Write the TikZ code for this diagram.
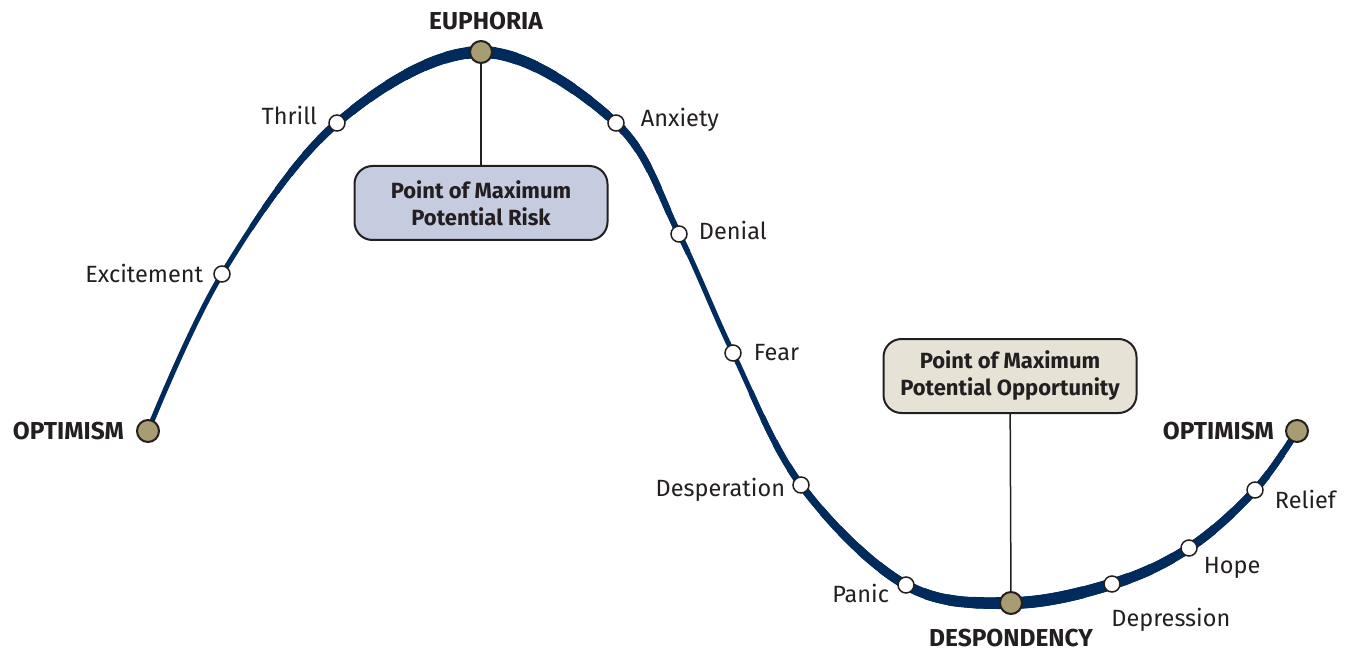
\documentclass[tikz,border=0pt]{standalone}
\usepackage{fontspec}
\setmainfont{Fira Sans}
\usepackage{xcolor}
\usetikzlibrary{positioning}

\definecolor{navy}{RGB}{0,43,92}
\definecolor{khaki}{RGB}{168,157,114}
\definecolor{riskblue}{RGB}{197,204,224}
\definecolor{sand}{RGB}{230,226,214}
\definecolor{ink}{RGB}{35,31,32}

% the market cycle line, through the stage points
\newcommand\wavepath{plot[smooth, tension=0.6] coordinates {(p-opt1) (p-exc) (p-thr) (p-euph) (p-anx) (p-den) (p-fear) (p-desp) (p-pan) (p-dsp) (p-dep) (p-hope) (p-rel) (p-opt2)}}

\begin{document}
\begin{tikzpicture}[
  x=1pt, y=-1pt,
  every node/.style={font=\fontsize{23.5}{28}\selectfont, text=ink},
  mood/.style={inner sep=0pt},
  phase/.style={inner sep=0pt, font=\fontsize{24.5}{28}\selectfont\bfseries},
  stage/.style={circle, draw=ink, line width=1.5pt, fill=white,
    minimum size=16pt, inner sep=0pt},
  peak/.style={circle, draw=ink, line width=2pt, fill=khaki,
    minimum size=22pt, inner sep=0pt},
  callout/.style={rectangle, draw=ink, line width=2pt, rounded corners=18pt,
    minimum width=253pt, minimum height=74pt, align=center,
    font=\fontsize{22}{27}\selectfont\bfseries},
  risk/.style={callout, fill=riskblue},
  chance/.style={callout, fill=sand},
  wave/.style={draw=navy, line cap=round},
  stem/.style={draw=ink, line width=1.5pt},
]
\useasboundingbox (0,0) rectangle (1348,652);

% Stage points
\coordinate (p-opt1) at (148,431);
\coordinate (p-exc)  at (222,274);
\coordinate (p-thr)  at (337,123);
\coordinate (p-euph) at (481,52);
\coordinate (p-anx)  at (616,123);
\coordinate (p-den)  at (679,234);
\coordinate (p-fear) at (733,353);
\coordinate (p-desp) at (801,485);
\coordinate (p-pan)  at (906,585);
\coordinate (p-dsp)  at (1011,603);
\coordinate (p-dep)  at (1112,584);
\coordinate (p-hope) at (1189,548);
\coordinate (p-rel)  at (1255,490);
\coordinate (p-opt2) at (1297,431);
\coordinate (lowc)   at (1040,600);

% Cycle line, thicker near the top and the bottom
\draw[wave, line width=5pt] \wavepath;
\foreach \i in {1,...,14} {
  \pgfmathsetmacro\w{5+\i*0.5}
  \pgfmathsetmacro\r{310-\i*21}
  \begin{scope}
    \clip (p-euph) circle (\r pt);
    \draw[wave, line width=\w pt] \wavepath;
  \end{scope}
}
\foreach \i in {1,...,14} {
  \pgfmathsetmacro\w{5+\i*0.5}
  \pgfmathsetmacro\r{380-\i*24}
  \begin{scope}
    \clip (lowc) circle (\r pt);
    \draw[wave, line width=\w pt] \wavepath;
  \end{scope}
}

% Dots
\node[peak]  (opt1)    at (p-opt1) {};
\node[stage] (excite)  at (p-exc)  {};
\node[stage] (thrill)  at (p-thr)  {};
\node[peak]  (euph)    at (p-euph) {};
\node[stage] (anxiety) at (p-anx)  {};
\node[stage] (denial)  at (p-den)  {};
\node[stage] (fear)    at (p-fear) {};
\node[stage] (desper)  at (p-desp) {};
\node[stage] (panic)   at (p-pan)  {};
\node[peak]  (despond) at (p-dsp)  {};
\node[stage] (depress) at (p-dep)  {};
\node[stage] (hope)    at (p-hope) {};
\node[stage] (relief)  at (p-rel)  {};
\node[peak]  (opt2)    at (p-opt2) {};

% Labels
\node[phase, left=12pt of opt1] (opt1-l) {OPTIMISM};
\node[phase, above=10pt of euph, xshift=5pt] (euph-l) {EUPHORIA};
\node[phase, below=14pt of despond] (despond-l) {DESPONDENCY};
\node[phase, left=11pt of opt2] (opt2-l) {OPTIMISM};

\node[mood, left=10pt of excite, yshift=1pt] (excite-l) {Excitement};
\node[mood, left=11pt of thrill, yshift=8pt] (thrill-l) {Thrill};
\node[mood, right=16pt of anxiety, yshift=3.5pt] (anxiety-l) {Anxiety};
\node[mood, right=11pt of denial, yshift=4pt] (denial-l) {Denial};
\node[mood, right=12pt of fear] (fear-l) {Fear};
\node[mood, left=7pt of desper, yshift=-4.5pt] (desper-l) {Desperation};
\node[mood, left=8pt of panic, yshift=-8pt] (panic-l) {Panic};
\node[mood, below right=18pt and -7pt of depress] (depress-l) {Depression};
\node[mood, right=6pt of hope, yshift=-19.5pt] (hope-l) {Hope};
\node[mood, right=11pt of relief, yshift=-9pt] (relief-l) {Relief};

% Callouts
\node[risk] (riskbox) at (481,203) {Point of Maximum\\Potential Risk};
\node[chance] (chancebox) at (1010,376) {Point of Maximum\\Potential Opportunity};

\draw[stem] (euph) -- (riskbox);
\draw[stem] (chancebox) -- (despond);

\end{tikzpicture}
\end{document}
